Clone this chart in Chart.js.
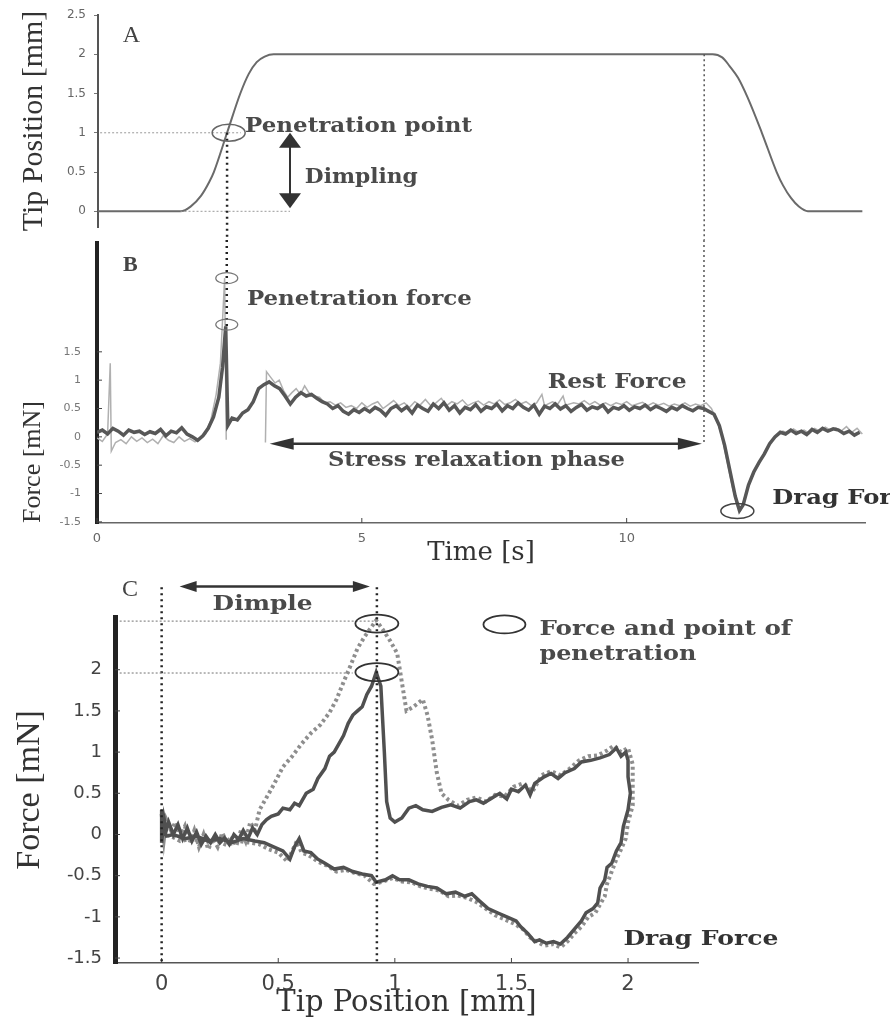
<!DOCTYPE html>
<html><head><meta charset="utf-8">
<script src="https://cdn.jsdelivr.net/npm/chart.js@4.4.1/dist/chart.umd.min.js"></script>
<style>
html,body{margin:0;padding:0;background:#fff;}
#wrap{position:relative;width:890px;height:1021px;overflow:hidden;background:#fff;}
canvas{position:absolute;left:0;}
</style></head><body>
<div id="wrap">
<canvas id="cA" width="890" height="240" style="top:0px"></canvas>
<canvas id="cB" width="890" height="330" style="top:240px"></canvas>
<canvas id="cC" width="890" height="451" style="top:570px"></canvas>
</div>
<script>
// ---------- Panel A: tip position vs time ----------
const aTime = [0.00,1.56,1.75,1.95,2.10,2.19,2.44,2.69,2.85,3.00,3.15,3.32,11.62,11.80,11.94,12.10,12.28,12.55,12.83,12.95,13.10,13.25,13.42,14.45];
const aTipPos = [0,0,0.06,0.20,0.37,0.50,1.00,1.50,1.75,1.90,1.97,2.00,2.00,1.96,1.85,1.70,1.45,1.00,0.50,0.33,0.17,0.06,0,0];
const aYTicks = [0,0.5,1,1.5,2,2.5];
const aYLabels = ['0','0.5','1','1.5','2','2.5'];

// ---------- Panel B: force vs time ----------
const bDarkTime = [0.00,0.10,0.20,0.30,0.40,0.50,0.60,0.70,0.80,0.90,1.00,1.10,1.20,1.30,1.40,1.50,1.60,1.70,1.80,1.90,2.00,2.10,2.20,2.30,2.37,2.43,2.47,2.55,2.65,2.75,2.85,2.95,3.05,3.15,3.25,3.35,3.45,3.55,3.65,3.75,3.85,3.95,4.05,4.15,4.25,4.35,4.45,4.55,4.65,4.75,4.85,4.95,5.05,5.15,5.25,5.35,5.45,5.55,5.65,5.75,5.85,5.95,6.05,6.15,6.25,6.35,6.45,6.55,6.65,6.75,6.85,6.95,7.05,7.15,7.25,7.35,7.45,7.55,7.65,7.75,7.85,7.95,8.05,8.15,8.25,8.35,8.45,8.55,8.65,8.75,8.85,8.95,9.05,9.15,9.25,9.35,9.45,9.55,9.65,9.75,9.85,9.95,10.05,10.15,10.25,10.35,10.45,10.55,10.65,10.75,10.85,10.95,11.05,11.15,11.25,11.35,11.45,11.55,11.65,11.75,11.85,11.95,12.05,12.13,12.20,12.30,12.40,12.50,12.60,12.70,12.80,12.90,13.00,13.10,13.20,13.30,13.40,13.50,13.60,13.70,13.80,13.90,14.00,14.10,14.20,14.30,14.40];
const bDarkForce = [0.08,0.12,0.05,0.15,0.10,0.03,0.12,0.08,0.10,0.04,0.09,0.06,0.13,0.02,0.10,0.07,0.16,0.05,0.00,-0.06,0.02,0.15,0.35,0.70,1.23,1.95,0.20,0.33,0.30,0.42,0.48,0.62,0.85,0.92,0.97,0.90,0.85,0.72,0.58,0.70,0.78,0.72,0.75,0.68,0.62,0.58,0.50,0.55,0.45,0.40,0.48,0.43,0.50,0.44,0.52,0.47,0.38,0.50,0.55,0.46,0.53,0.42,0.56,0.50,0.45,0.58,0.50,0.60,0.47,0.55,0.42,0.52,0.48,0.57,0.45,0.53,0.50,0.58,0.46,0.55,0.50,0.60,0.52,0.47,0.56,0.40,0.54,0.50,0.58,0.49,0.55,0.45,0.52,0.57,0.47,0.53,0.50,0.56,0.44,0.52,0.49,0.55,0.47,0.53,0.50,0.56,0.48,0.54,0.50,0.45,0.52,0.48,0.55,0.50,0.46,0.52,0.50,0.45,0.40,0.20,-0.15,-0.60,-1.05,-1.30,-1.20,-0.85,-0.62,-0.45,-0.30,-0.12,0.00,0.08,0.05,0.12,0.06,0.10,0.04,0.13,0.08,0.15,0.10,0.14,0.12,0.06,0.10,0.03,0.08];
const bLightTime = [0.00,0.10,0.20,0.25,0.27,0.35,0.45,0.55,0.65,0.75,0.85,0.95,1.05,1.15,1.25,1.35,1.45,1.55,1.65,1.75,1.85,1.95,2.05,2.15,2.25,2.33,2.41,2.44,2.80,3.18,3.20,3.28,3.36,3.44,3.52,3.60,3.68,3.76,3.84,3.92,4.00,4.10,4.20,4.30,4.40,4.50,4.60,4.70,4.80,4.90,5.00,5.10,5.20,5.30,5.40,5.50,5.60,5.70,5.80,5.90,6.00,6.10,6.20,6.30,6.40,6.50,6.60,6.70,6.80,6.90,7.00,7.10,7.20,7.30,7.40,7.50,7.60,7.70,7.80,7.90,8.00,8.10,8.20,8.30,8.40,8.45,8.60,8.70,8.80,8.85,9.00,9.10,9.20,9.30,9.40,9.50,9.60,9.70,9.80,9.90,10.00,10.10,10.20,10.30,10.40,10.50,10.60,10.70,10.80,10.90,11.00,11.10,11.20,11.30,11.40,11.50,11.60,11.70,11.80,11.90,12.00,12.10,12.15,12.25,12.35,12.45,12.55,12.65,12.75,12.85,12.95,13.05,13.15,13.25,13.35,13.45,13.55,13.65,13.75,13.85,13.95,14.05,14.15,14.25,14.35,14.45];
const bLightForce = [-0.02,-0.08,0.05,1.30,-0.25,-0.10,-0.05,-0.12,0.00,-0.08,-0.02,-0.10,-0.04,-0.12,0.02,-0.06,-0.10,0.00,-0.08,-0.03,-0.09,-0.02,0.05,0.30,0.75,1.30,2.80,-0.05,null,-0.10,1.15,1.05,0.95,1.00,0.82,0.70,0.78,0.85,0.75,0.90,0.78,0.72,0.70,0.60,0.62,0.56,0.60,0.52,0.55,0.50,0.60,0.52,0.58,0.62,0.50,0.57,0.64,0.55,0.60,0.52,0.62,0.56,0.66,0.55,0.60,0.68,0.55,0.62,0.58,0.65,0.55,0.60,0.63,0.56,0.62,0.58,0.65,0.57,0.60,0.66,0.58,0.62,0.55,0.60,0.75,0.55,0.62,0.58,0.72,0.56,0.60,0.58,0.64,0.57,0.62,0.56,0.60,0.55,0.60,0.57,0.62,0.55,0.58,0.61,0.55,0.60,0.56,0.59,0.54,0.58,0.55,0.60,0.54,0.58,0.55,0.60,0.50,0.30,0.00,-0.45,-0.90,-1.25,-1.30,-1.00,-0.75,-0.55,-0.38,-0.20,-0.05,0.05,0.10,0.06,0.14,0.08,0.12,0.06,0.15,0.10,0.17,0.12,0.16,0.10,0.18,0.08,0.15,0.05];
const bXTicks = [0,5,10];
const bXLabels = ['0','5','10'];
const bYTicks = [-1.5,-1,-0.5,0,0.5,1,1.5];
const bYLabels = ['-1.5','-1','-0.5','0','0.5','1','1.5'];

// ---------- Panel C: force vs tip position ----------
const cSolidPos = [0.00,0.00,0.01,0.02,0.03,0.05,0.07,0.09,0.11,0.13,0.15,0.17,0.19,0.21,0.23,0.25,0.27,0.29,0.31,0.33,0.35,0.37,0.39,0.41,0.43,0.45,0.47,0.50,0.52,0.55,0.57,0.59,0.62,0.65,0.67,0.70,0.72,0.74,0.76,0.78,0.80,0.82,0.84,0.86,0.88,0.90,0.92,0.94,0.955,0.965,0.98,1.00,1.03,1.06,1.09,1.12,1.16,1.20,1.24,1.28,1.32,1.35,1.38,1.42,1.45,1.48,1.50,1.53,1.56,1.58,1.60,1.64,1.67,1.70,1.73,1.77,1.80,1.84,1.88,1.92,1.95,1.97,1.99,2.00,2.00,2.01,2.00,1.98,1.97,1.95,1.93,1.91,1.90,1.88,1.87,1.85,1.82,1.80,1.77,1.74,1.71,1.68,1.65,1.62,1.60,1.57,1.54,1.52,1.48,1.44,1.40,1.36,1.33,1.30,1.26,1.22,1.18,1.14,1.10,1.06,1.02,0.99,0.96,0.92,0.90,0.86,0.82,0.78,0.74,0.70,0.67,0.64,0.61,0.59,0.57,0.55,0.52,0.48,0.44,0.40,0.35,0.30,0.25,0.20,0.15,0.10,0.05,0.02,0.00];
const cSolidForce = [0.30,-0.10,0.20,0.05,0.15,0.00,0.12,-0.05,0.08,-0.08,0.03,-0.12,-0.02,-0.10,0.00,-0.10,-0.04,-0.12,0.00,-0.06,0.05,-0.05,0.08,0.00,0.12,0.18,0.22,0.25,0.32,0.30,0.38,0.35,0.50,0.55,0.68,0.80,0.95,1.00,1.10,1.20,1.35,1.45,1.50,1.55,1.70,1.80,1.97,1.80,1.00,0.40,0.20,0.15,0.20,0.32,0.35,0.30,0.28,0.33,0.36,0.32,0.40,0.42,0.38,0.45,0.50,0.43,0.55,0.52,0.60,0.48,0.62,0.70,0.74,0.68,0.75,0.80,0.88,0.90,0.93,0.97,1.05,0.95,1.00,0.90,0.70,0.50,0.30,0.10,-0.10,-0.20,-0.35,-0.40,-0.55,-0.65,-0.83,-0.90,-0.95,-1.05,-1.15,-1.25,-1.33,-1.30,-1.32,-1.28,-1.30,-1.20,-1.12,-1.05,-1.00,-0.95,-0.90,-0.80,-0.72,-0.75,-0.70,-0.72,-0.65,-0.63,-0.60,-0.55,-0.55,-0.50,-0.55,-0.58,-0.50,-0.48,-0.45,-0.40,-0.42,-0.35,-0.30,-0.22,-0.20,-0.05,-0.15,-0.30,-0.20,-0.15,-0.10,-0.08,-0.05,-0.10,-0.05,-0.08,-0.02,-0.05,0.00,-0.02,0.05];
const cDotPos = [0.00,0.01,0.02,0.04,0.06,0.08,0.10,0.12,0.14,0.16,0.18,0.20,0.22,0.24,0.26,0.28,0.30,0.32,0.34,0.36,0.38,0.40,0.42,0.45,0.48,0.52,0.56,0.60,0.64,0.68,0.72,0.75,0.78,0.81,0.84,0.87,0.90,0.92,0.95,0.98,1.01,1.03,1.05,1.08,1.12,1.14,1.16,1.18,1.20,1.23,1.27,1.31,1.35,1.39,1.43,1.47,1.51,1.55,1.59,1.63,1.67,1.71,1.75,1.79,1.83,1.87,1.91,1.94,1.97,2.00,2.02,2.02,2.02,2.00,1.99,1.97,1.95,1.93,1.91,1.90,1.88,1.86,1.83,1.80,1.77,1.74,1.71,1.68,1.64,1.61,1.58,1.55,1.51,1.47,1.43,1.39,1.35,1.31,1.27,1.23,1.19,1.15,1.11,1.07,1.03,0.99,0.95,0.91,0.87,0.83,0.79,0.75,0.71,0.67,0.63,0.60,0.58,0.56,0.54,0.50,0.46,0.42,0.38,0.33,0.28,0.23,0.18,0.13,0.08,0.04,0.00];
const cDotForce = [0.25,-0.05,0.18,0.05,0.15,-0.02,0.10,-0.10,0.05,-0.15,0.00,-0.18,-0.05,-0.15,0.02,-0.10,-0.02,-0.14,0.05,-0.08,0.15,0.05,0.30,0.45,0.60,0.82,0.95,1.10,1.23,1.33,1.48,1.64,1.85,2.05,2.26,2.40,2.52,2.60,2.48,2.35,2.20,1.85,1.50,1.55,1.64,1.45,1.15,0.75,0.50,0.42,0.35,0.42,0.45,0.40,0.48,0.46,0.58,0.62,0.52,0.72,0.77,0.72,0.80,0.90,0.95,0.96,1.02,1.08,1.00,1.05,0.85,0.60,0.35,0.15,-0.05,-0.18,-0.30,-0.45,-0.60,-0.75,-0.85,-0.95,-1.00,-1.12,-1.20,-1.30,-1.37,-1.33,-1.35,-1.30,-1.25,-1.15,-1.08,-1.03,-0.98,-0.90,-0.82,-0.77,-0.74,-0.75,-0.68,-0.66,-0.63,-0.58,-0.57,-0.53,-0.57,-0.60,-0.50,-0.47,-0.43,-0.45,-0.38,-0.33,-0.25,-0.22,-0.08,-0.20,-0.33,-0.22,-0.18,-0.12,-0.10,-0.08,-0.13,-0.07,-0.10,-0.05,-0.08,-0.02,0.00];
const cXTicks = [0,0.5,1,1.5,2];
const cXLabels = ['0','0.5','1','1.5','2'];
const cYTicks = [-1.5,-1,-0.5,0,0.5,1,1.5,2];
const cYLabels = ['-1.5','-1','-0.5','0','0.5','1','1.5','2'];

// ---------- helpers ----------
Chart.defaults.font.family = '"DejaVu Sans", sans-serif';
function pts(xs, ys) { return xs.map((x, i) => ({ x: x, y: ys[i] })); }
function fixY(w) { return s => { s.width = w; s.paddingTop = 0; s.paddingBottom = 0; }; }
function fixX(h) { return s => { s.height = h; s.paddingLeft = 0; s.paddingRight = 0; }; }
function setTicks(vals) { return s => { s.ticks = vals.map(v => ({ value: v })); }; }
function labelsFrom(labels) { return (v, i) => labels[i]; }

function dash(ctx, x1, y1, x2, y2, color, lw, pattern) {
  ctx.save(); ctx.strokeStyle = color; ctx.lineWidth = lw; ctx.setLineDash(pattern);
  ctx.beginPath(); ctx.moveTo(x1, y1); ctx.lineTo(x2, y2); ctx.stroke(); ctx.restore();
}
function oval(ctx, cx, cy, rx, ry, color, lw) {
  ctx.save(); ctx.strokeStyle = color; ctx.lineWidth = lw; ctx.setLineDash([]);
  ctx.beginPath(); ctx.ellipse(cx, cy, rx, ry, 0, 0, Math.PI * 2); ctx.stroke(); ctx.restore();
}
function arrow2(ctx, x1, y1, x2, y2, hl, hw, color, lw) {
  const dx = x2 - x1, dy = y2 - y1, L = Math.hypot(dx, dy), ux = dx / L, uy = dy / L;
  ctx.save(); ctx.strokeStyle = color; ctx.fillStyle = color; ctx.lineWidth = lw; ctx.setLineDash([]);
  ctx.beginPath(); ctx.moveTo(x1 + ux * hl * 0.8, y1 + uy * hl * 0.8); ctx.lineTo(x2 - ux * hl * 0.8, y2 - uy * hl * 0.8); ctx.stroke();
  [[x1, y1, -1], [x2, y2, 1]].forEach(([tx, ty, s]) => {
    const bx = tx - s * ux * hl, by = ty - s * uy * hl;
    ctx.beginPath(); ctx.moveTo(tx, ty); ctx.lineTo(bx - uy * hw, by + ux * hw); ctx.lineTo(bx + uy * hw, by - ux * hw); ctx.closePath(); ctx.fill();
  });
  ctx.restore();
}
function label(ctx, text, x, y, font, color, w, align) {
  ctx.save(); ctx.font = font; ctx.fillStyle = color; ctx.textBaseline = 'middle'; ctx.textAlign = 'left';
  const m = ctx.measureText(text).width; const sx = w ? w / m : 1;
  ctx.translate(x, y); ctx.scale(sx, 1);
  ctx.fillText(text, align === 'center' ? -m / 2 : 0, 0);
  ctx.restore();
}
function innerTicks(chart, len, color, lw, doX) {
  const ctx = chart.ctx, xs = chart.scales.x, ys = chart.scales.y, ca = chart.chartArea;
  ctx.save(); ctx.strokeStyle = color; ctx.lineWidth = lw;
  ys.ticks.forEach(t => { const p = ys.getPixelForValue(t.value); ctx.beginPath(); ctx.moveTo(ca.left, p); ctx.lineTo(ca.left + len, p); ctx.stroke(); });
  if (doX) xs.ticks.forEach(t => { const p = xs.getPixelForValue(t.value); ctx.beginPath(); ctx.moveTo(p, ca.bottom); ctx.lineTo(p, ca.bottom - len); ctx.stroke(); });
  ctx.restore();
}
const BOLD = 'bold 20px "DejaVu Serif"';
const TXT = '#4a4a4a';

const annotA = { id: 'annotA', afterDraw(chart) {
  const ctx = chart.ctx, X = v => chart.scales.x.getPixelForValue(v), Y = v => chart.scales.y.getPixelForValue(v);
  dash(ctx, X(0.04), Y(1), X(2.7), Y(1), '#9a9a9a', 1, [2, 2]);
  dash(ctx, X(1.56), Y(0), X(3.63), Y(0), '#9a9a9a', 1, [2, 2]);
  dash(ctx, X(2.44), Y(1), X(2.44), chart.height, '#222', 2.5, [2, 4]);
  dash(ctx, X(11.46), Y(2), X(11.46), chart.height, '#555', 1.5, [2, 3]);
  oval(ctx, X(2.47), Y(1), 16.5, 8.5, '#666', 1.5);
  arrow2(ctx, X(3.63), Y(1), X(3.63), Y(0.04), 15, 11, '#333', 2);
  label(ctx, 'A', X(0.47), Y(2.23), '24px "Liberation Serif"', '#444');
  label(ctx, 'Penetration point', X(2.78), Y(1.08), BOLD, TXT, 227);
  label(ctx, 'Dimpling', X(3.91), Y(0.43), BOLD, TXT, 113);
}};

const annotB = { id: 'annotB', afterDraw(chart) {
  const ctx = chart.ctx, X = v => chart.scales.x.getPixelForValue(v), Y = v => chart.scales.y.getPixelForValue(v);
  innerTicks(chart, 5, '#444', 1, true);
  dash(ctx, X(2.45), 0, X(2.45), Y(1.95), '#222', 2.5, [2, 4]);
  dash(ctx, X(11.46), 0, X(11.46), Y(-0.1), '#555', 1.5, [2, 3]);
  oval(ctx, X(2.45), Y(2.8), 11, 5.5, '#777', 1.2);
  oval(ctx, X(2.45), Y(1.98), 11, 5.5, '#777', 1.2);
  arrow2(ctx, X(3.26), Y(-0.12), X(11.42), Y(-0.12), 24, 6, '#333', 2.5);
  oval(ctx, X(12.09), Y(-1.31), 16.5, 7.5, '#444', 1.5);
  label(ctx, 'B', X(0.49), Y(3.03), 'bold 22px "Liberation Serif"', '#444');
  label(ctx, 'Penetration force', X(2.83), Y(2.42), BOLD, TXT, 225);
  label(ctx, 'Rest Force', X(8.51), Y(0.95), BOLD, TXT, 139);
  label(ctx, 'Stress relaxation phase', X(4.36), Y(-0.42), BOLD, TXT, 297);
  label(ctx, 'Drag Force', X(12.75), Y(-1.09), BOLD, '#333', 150);
}};

const annotC = { id: 'annotC', afterDraw(chart) {
  const ctx = chart.ctx, X = v => chart.scales.x.getPixelForValue(v), Y = v => chart.scales.y.getPixelForValue(v);
  innerTicks(chart, 5, '#444', 1, true);
  dash(ctx, X(0), Y(3.0), X(0), Y(-1.56), '#222', 2.5, [2, 4]);
  dash(ctx, X(0.923), Y(3.0), X(0.923), Y(-1.56), '#222', 2.5, [2, 4]);
  dash(ctx, X(-0.18), Y(2.59), X(0.935), Y(2.59), '#8a8a8a', 1.2, [2, 2]);
  dash(ctx, X(-0.18), Y(1.96), X(0.82), Y(1.96), '#8a8a8a', 1.2, [2, 2]);
  oval(ctx, X(0.923), Y(2.56), 21.5, 9, '#333', 1.8);
  oval(ctx, X(0.923), Y(1.97), 21.5, 9, '#333', 1.8);
  arrow2(ctx, X(0.077), Y(3.01), X(0.893), Y(3.01), 17, 5.5, '#333', 2.5);
  label(ctx, 'C', X(-0.17), Y(2.97), '24px "Liberation Serif"', '#444');
  label(ctx, 'Dimple', X(0.433), Y(2.79), BOLD, TXT, 100, 'center');
  oval(ctx, X(1.47), Y(2.55), 21, 9, '#333', 1.8);
  label(ctx, 'Force and point of', X(1.62), Y(2.49), BOLD, TXT, 252);
  label(ctx, 'penetration', X(1.62), Y(2.18), BOLD, TXT, 157);
  label(ctx, 'Drag Force', X(1.98), Y(-1.28), BOLD, '#333', 155);
}};

const common = { responsive: false, animation: false, events: [], plugins: { legend: { display: false }, tooltip: { enabled: false } } };

// ---------- Chart A ----------
new Chart(document.getElementById('cA'), {
  type: 'scatter',
  data: { datasets: [{ data: pts(aTime, aTipPos), showLine: true, borderColor: '#6a6a6a', borderWidth: 2, pointRadius: 0, cubicInterpolationMode: 'monotone' }] },
  options: Object.assign({}, common, {
    layout: { padding: { left: 0, top: 15, right: 25, bottom: 13 } },
    scales: {
      x: { type: 'linear', display: false, min: 0, max: 14.5 },
      y: { type: 'linear', min: -0.2, max: 2.5, afterBuildTicks: setTicks(aYTicks), afterFit: fixY(98),
        grid: { drawOnChartArea: false, drawTicks: true, tickLength: 4, color: '#777' },
        border: { display: true, color: '#555', width: 2 },
        ticks: { padding: 8, color: '#666', font: { size: 12 }, callback: labelsFrom(aYLabels) },
        title: { display: true, text: 'Tip Position [mm]', color: '#333', font: { family: '"Liberation Serif"', size: 30 }, padding: { top: 16, bottom: 0 } } }
    }
  }),
  plugins: [annotA]
});

// ---------- Chart B ----------
new Chart(document.getElementById('cB'), {
  type: 'scatter',
  data: { datasets: [
    { data: pts(bDarkTime, bDarkForce), showLine: true, borderColor: '#575757', borderWidth: 3.5, pointRadius: 0 },
    { data: pts(bLightTime, bLightForce), showLine: true, borderColor: '#b0b0b0', borderWidth: 1.5, pointRadius: 0, spanGaps: false }
  ] },
  options: Object.assign({}, common, {
    layout: { padding: { left: 0, top: 3, right: 25, bottom: 0 } },
    scales: {
      x: { type: 'linear', min: 0, max: 14.5, afterBuildTicks: setTicks(bXTicks), afterFit: fixX(47),
        grid: { drawOnChartArea: false, drawTicks: false },
        border: { display: true, color: '#666', width: 1.5 },
        ticks: { padding: 8, color: '#666', font: { size: 13 }, callback: labelsFrom(bXLabels) },
        title: { display: true, text: 'Time [s]', color: '#333', font: { family: '"DejaVu Serif"', size: 26 }, padding: { top: 0, bottom: 1 } } },
      y: { type: 'linear', min: -1.52, max: 3.42, afterBuildTicks: setTicks(bYTicks), afterFit: fixY(97),
        grid: { drawOnChartArea: false, drawTicks: false },
        border: { display: true, color: '#222', width: 4 },
        ticks: { padding: 16, color: '#777', font: { size: 11 }, callback: labelsFrom(bYLabels) },
        title: { display: true, text: 'Force [mN]', align: 'start', color: '#333', font: { family: '"Liberation Serif"', size: 26 }, padding: { top: 18, bottom: 0 } } }
    }
  }),
  plugins: [annotB]
});

// ---------- Chart C ----------
new Chart(document.getElementById('cC'), {
  type: 'scatter',
  data: { datasets: [
    { data: pts(cSolidPos, cSolidForce), showLine: true, borderColor: '#505050', borderWidth: 3.5, pointRadius: 0 },
    { data: pts(cDotPos, cDotForce), showLine: true, borderColor: '#8e8e8e', borderWidth: 4, borderDash: [3, 3], pointRadius: 0 }
  ] },
  options: Object.assign({}, common, {
    layout: { padding: { left: 0, top: 47, right: 192, bottom: 0 } },
    scales: {
      x: { type: 'linear', min: -0.2, max: 2.3, afterBuildTicks: setTicks(cXTicks), afterFit: fixX(58),
        grid: { drawOnChartArea: false, drawTicks: false },
        border: { display: true, color: '#555', width: 1.5 },
        ticks: { padding: 9, color: '#444', font: { size: 21 }, callback: labelsFrom(cXLabels) },
        title: { display: true, text: 'Tip Position [mm]', color: '#333', font: { family: '"DejaVu Serif"', size: 29 }, padding: { top: 0, bottom: 0 } } },
      y: { type: 'linear', min: -1.56, max: 2.64, afterBuildTicks: setTicks(cYTicks), afterFit: fixY(115),
        grid: { drawOnChartArea: false, drawTicks: false },
        border: { display: true, color: '#222', width: 5 },
        ticks: { padding: 13, color: '#444', font: { size: 18 }, callback: labelsFrom(cYLabels) },
        title: { display: true, text: 'Force [mN]', color: '#333', font: { family: '"Liberation Serif"', size: 34 }, padding: { top: 10, bottom: 0 } } }
    }
  }),
  plugins: [annotC]
});
</script>
</body></html>
